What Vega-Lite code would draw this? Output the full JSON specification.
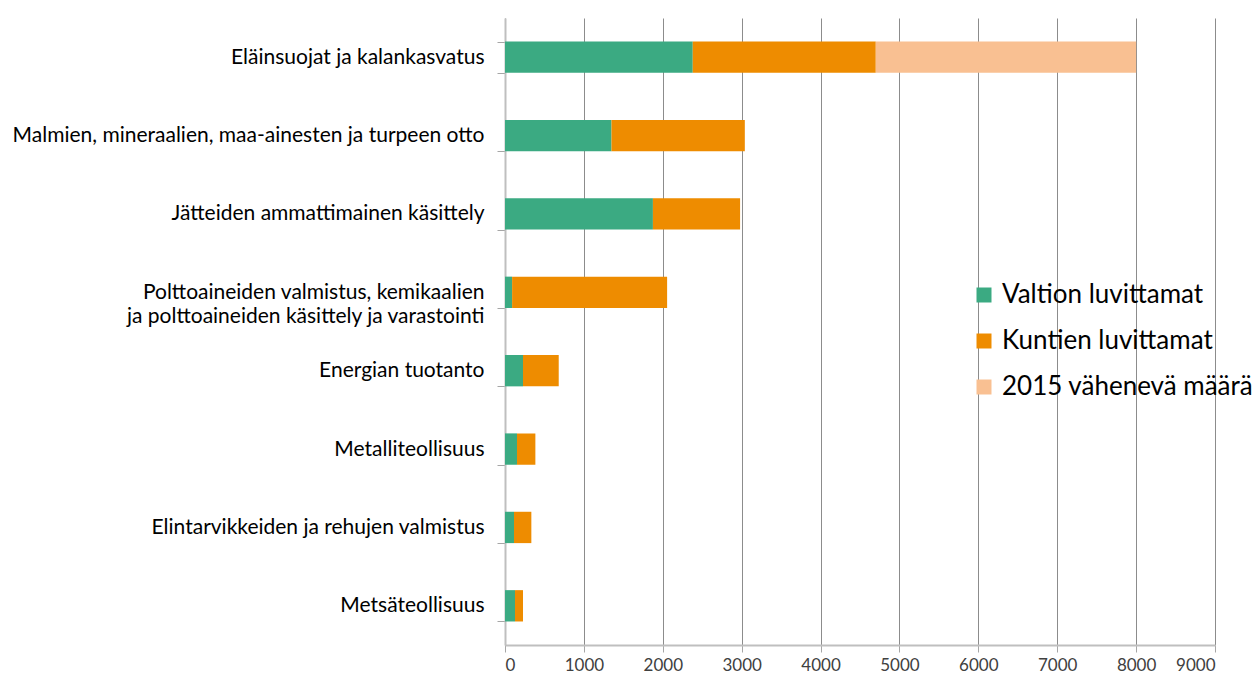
{
  "$schema": "https://vega.github.io/schema/vega-lite/v6.json",
  "width": 710,
  "height": 627,
  "autosize": {"type": "none"},
  "padding": {"left": 505, "top": 18, "right": 40, "bottom": 35},
  "background": "white",
  "config": {"view": {"stroke": null}, "font": "Lato"},
  "data": {
    "values": [
      {"toiminta": "Eläinsuojat ja kalankasvatus", "ryhma": "Valtion luvittamat", "maara": 2380, "jarjestys": 1},
      {"toiminta": "Eläinsuojat ja kalankasvatus", "ryhma": "Kuntien luvittamat", "maara": 2320, "jarjestys": 2},
      {"toiminta": "Eläinsuojat ja kalankasvatus", "ryhma": "2015 vähenevä määrä", "maara": 3300, "jarjestys": 3},
      {"toiminta": "Malmien, mineraalien, maa-ainesten ja turpeen otto", "ryhma": "Valtion luvittamat", "maara": 1350, "jarjestys": 1},
      {"toiminta": "Malmien, mineraalien, maa-ainesten ja turpeen otto", "ryhma": "Kuntien luvittamat", "maara": 1690, "jarjestys": 2},
      {"toiminta": "Jätteiden ammattimainen käsittely", "ryhma": "Valtion luvittamat", "maara": 1875, "jarjestys": 1},
      {"toiminta": "Jätteiden ammattimainen käsittely", "ryhma": "Kuntien luvittamat", "maara": 1105, "jarjestys": 2},
      {"toiminta": "Polttoaineiden valmistus, kemikaalien |ja polttoaineiden käsittely ja varastointi", "ryhma": "Valtion luvittamat", "maara": 90, "jarjestys": 1},
      {"toiminta": "Polttoaineiden valmistus, kemikaalien |ja polttoaineiden käsittely ja varastointi", "ryhma": "Kuntien luvittamat", "maara": 1965, "jarjestys": 2},
      {"toiminta": "Energian tuotanto", "ryhma": "Valtion luvittamat", "maara": 228, "jarjestys": 1},
      {"toiminta": "Energian tuotanto", "ryhma": "Kuntien luvittamat", "maara": 453, "jarjestys": 2},
      {"toiminta": "Metalliteollisuus", "ryhma": "Valtion luvittamat", "maara": 152, "jarjestys": 1},
      {"toiminta": "Metalliteollisuus", "ryhma": "Kuntien luvittamat", "maara": 233, "jarjestys": 2},
      {"toiminta": "Elintarvikkeiden ja rehujen valmistus", "ryhma": "Valtion luvittamat", "maara": 114, "jarjestys": 1},
      {"toiminta": "Elintarvikkeiden ja rehujen valmistus", "ryhma": "Kuntien luvittamat", "maara": 220, "jarjestys": 2},
      {"toiminta": "Metsäteollisuus", "ryhma": "Valtion luvittamat", "maara": 127, "jarjestys": 1},
      {"toiminta": "Metsäteollisuus", "ryhma": "Kuntien luvittamat", "maara": 101, "jarjestys": 2}
    ]
  },
  "mark": {"type": "bar"},
  "encoding": {
    "y": {
      "field": "toiminta",
      "type": "nominal",
      "sort": null,
      "scale": {"paddingInner": 0.6, "paddingOuter": 0.3},
      "axis": {
        "title": null,
        "tickBand": "extent",
        "labelExpr": "isValid(datum.value) ? split(datum.value, '|') : ''",
        "labelFontSize": 21,
        "labelColor": "#000000",
        "labelPadding": 13,
        "labelLineHeight": 24,
        "labelLimit": 600,
        "tickSize": 8,
        "tickColor": "#a6a6a6",
        "domainColor": "#bfbfbf",
        "domainWidth": 2,
        "grid": false
      }
    },
    "x": {
      "field": "maara",
      "type": "quantitative",
      "stack": "zero",
      "scale": {"domain": [0, 9000], "nice": false},
      "axis": {
        "title": null,
        "values": [0, 1000, 2000, 3000, 4000, 5000, 6000, 7000, 8000, 9000],
        "format": "d",
        "grid": true,
        "gridColor": "#8c8c8c",
        "labelFontSize": 17,
        "labelColor": "#404040",
        "labelPadding": 5,
        "tickSize": 7,
        "tickColor": "#a6a6a6",
        "domainColor": "#bfbfbf",
        "domainWidth": 2
      }
    },
    "color": {
      "field": "ryhma",
      "type": "nominal",
      "scale": {
        "domain": ["Valtion luvittamat", "Kuntien luvittamat", "2015 vähenevä määrä"],
        "range": ["#3BAA82", "#EE8C00", "#F9C092"]
      },
      "legend": {
        "title": null,
        "orient": "none",
        "legendX": 466,
        "legendY": 264,
        "padding": 0,
        "symbolType": "square",
        "symbolSize": 225,
        "symbolStrokeWidth": 0,
        "labelFontSize": 26,
        "labelColor": "#000000",
        "labelOffset": 5,
        "rowPadding": 20,
        "labelLimit": 400
      }
    },
    "order": {"field": "jarjestys", "type": "quantitative"}
  }
}
